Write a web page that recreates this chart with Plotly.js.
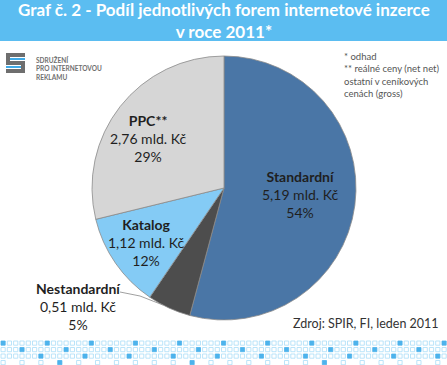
<!DOCTYPE html>
<html><head><meta charset="utf-8">
<script src="https://cdn.plot.ly/plotly-3.0.1.min.js"></script>
<style>html,body{margin:0;padding:0;background:#fff}#chart{width:447px;height:365px}</style>
</head><body><div id="chart"></div>
<script>
var categories = ["Standardní", "Nestandardní", "Katalog", "PPC**"];
var values = [5.19, 0.51, 1.12, 2.76];
var colors = ["#4A76A6", "#4D4D4D", "#84CBF5", "#D6D6D6"];
var titleLines = ["Graf č. 2 - Podíl jednotlivých forem internetové inzerce", "v roce 2011*"];
var noteLines = ["* odhad", "** reálné ceny (net net)", "ostatní v ceníkových", "cenách (gross)"];
var sourceText = "Zdroj: SPIR, FI, leden 2011";
var logoLines = ["SDRUŽENÍ", "PRO INTERNETOVOU", "REKLAMU"];

var W = 447, H = 365;
function px(x){return x / W;}
function py(y){return 1 - y / H;}
var total = values.reduce(function(a,b){return a+b;},0);
function fmt(v){return v.toFixed(2).replace('.', ',') + ' mld. Kč';}

// label placements (pixel)
var labelPos = [[300, 194], [78, 306], [146, 242], [148, 138]];

var FONT = "Lato, 'Open Sans', sans-serif";
var annotations = [];
categories.forEach(function(c, i){
  annotations.push({
    xref:'paper', yref:'paper', x:px(labelPos[i][0]), y:py(labelPos[i][1]),
    xanchor:'center', yanchor:'middle', align:'center', showarrow:false,
    text:'<b>'+c+'</b><br>'+fmt(values[i])+'<br>'+Math.round(values[i]/total*100)+'%',
    font:{family:FONT, size:14, color:'#1f1f1f'}
  });
});
annotations.push({xref:'paper', yref:'paper', x:0.5, y:py(21), xanchor:'center', yanchor:'middle',
  showarrow:false, align:'center', text:'<b>'+titleLines.join('<br>')+'</b>',
  font:{family:FONT, size:17, color:'#ffffff'}});
annotations.push({xref:'paper', yref:'paper', x:px(342), y:py(49), xanchor:'left', yanchor:'top',
  showarrow:false, align:'left', text:noteLines.join('<br>'),
  font:{family:FONT, size:9.5, color:'#555555'}});
annotations.push({xref:'paper', yref:'paper', x:px(441), y:py(323), xanchor:'right', yanchor:'middle',
  showarrow:false, text:sourceText, font:{family:FONT, size:12.5, color:'#333333'}});
annotations.push({xref:'paper', yref:'paper', x:px(34), y:py(68), xanchor:'left', yanchor:'middle',
  showarrow:false, align:'left', text:'<b>'+logoLines.join('<br>')+'</b>',
  font:{family:FONT, size:6.5, color:'#707070'}});

var shapes = [];
// header band
shapes.push({type:'rect', xref:'paper', yref:'paper', x0:0, x1:1, y0:py(41), y1:1, fillcolor:'#5BBDF1', line:{width:0}, layer:'below'});
// logo
shapes.push({type:'rect', xref:'paper', yref:'paper', x0:px(6), x1:px(25), y0:py(73), y1:py(53), fillcolor:'#6E6E6E', line:{width:0}});
shapes.push({type:'rect', xref:'paper', yref:'paper', x0:px(10), x1:px(25), y0:py(61), y1:py(57), fillcolor:'#ffffff', line:{width:0}});
shapes.push({type:'rect', xref:'paper', yref:'paper', x0:px(6), x1:px(21), y0:py(69), y1:py(65), fillcolor:'#ffffff', line:{width:0}});
shapes.push({type:'rect', xref:'paper', yref:'paper', x0:px(10), x1:px(25), y0:py(60), y1:py(58), fillcolor:'#3FA9E6', line:{width:0}});
shapes.push({type:'rect', xref:'paper', yref:'paper', x0:px(6), x1:px(21), y0:py(68), y1:py(66), fillcolor:'#3FA9E6', line:{width:0}});
// leader line for Nestandardní
shapes.push({type:'path', xref:'paper', yref:'paper',
  path:'M '+px(120)+' '+py(292)+' L '+px(140)+' '+py(296)+' L '+px(163)+' '+py(305),
  line:{color:'#888888', width:0.8}});
// decorative pattern at bottom
for (var r = 0; r < 4; r++) {
  for (var c = 0; c < 72; c++) {
    if (r === 3 && c % 3 !== 0) continue;
    var x0 = 1 + c * 6.3, y0 = 341 + r * 6.5;
    var filled = ((c * 3 + r * 5) % 7 === 0);
    shapes.push({type:'rect', xref:'paper', yref:'paper', x0:px(x0), x1:px(x0+4.2), y0:py(y0+4.2), y1:py(y0),
      fillcolor: filled ? '#4DB3EC' : '#ffffff', line:{color: filled ? '#4DB3EC' : '#A9DDF8', width:0.8}});
  }
}

var cx = 224, cy = 188, R = 132;
var data = [{
  type:'pie', labels:categories, values:values, sort:false, direction:'clockwise', rotation:0,
  marker:{colors:colors, line:{color:'#8a8a8a', width:0.8}},
  textinfo:'none', hoverinfo:'none', showlegend:false,
  domain:{x:[px(cx-R), px(cx+R)], y:[py(cy+R), py(cy-R)]}
}];
var layout = {
  width:W, height:H, margin:{l:0,r:0,t:0,b:0}, paper_bgcolor:'#ffffff',
  showlegend:false, annotations:annotations, shapes:shapes
};
Plotly.newPlot('chart', data, layout, {staticPlot:true});
</script></body></html>
